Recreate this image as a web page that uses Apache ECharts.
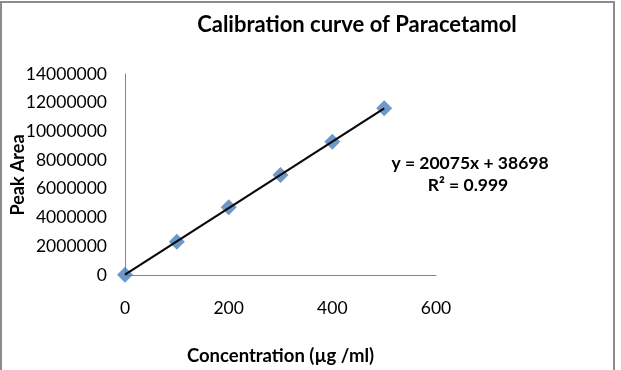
<!DOCTYPE html>
<html>
<head>
<meta charset="utf-8">
<script src="https://cdn.jsdelivr.net/npm/echarts@6/dist/echarts.min.js"></script>
<style>html,body{margin:0;padding:0;background:#fff;}#c{width:621px;height:370px;}</style>
</head>
<body>
<div id="c"></div>
<script>
var concentrations = [0, 100, 200, 300, 400, 500];
var peakAreas = [20000, 2320000, 4720000, 6970000, 9280000, 11610000];
var trendX = [0, 500];
var trendY = [30000, 11610000];
var xTicks = [0, 200, 400, 600];
var yTicks = [0, 2000000, 4000000, 6000000, 8000000, 10000000, 12000000, 14000000];
var titleText = 'Calibration curve of Paracetamol';
var xTitle = 'Concentration (µg /ml)';
var yTitle = 'Peak Area';
var eqText = 'y = 20075x + 38698';
var r2Text = 'R² = 0.999';

var font = 'Lato';
var chart = echarts.init(document.getElementById('c'), null, {renderer: 'canvas'});
chart.setOption({
  animation: false,
  backgroundColor: '#fff',
  title: {
    text: titleText, left: 352, top: 9, textAlign: 'center',
    textStyle: {fontFamily: font, fontWeight: 'bold', fontSize: 22, color: '#000'}
  },
  grid: {left: 125, right: 185, top: 74, bottom: 95, containLabel: false, outerBoundsMode: 'none'},
  xAxis: {
    type: 'value', min: xTicks[0], max: xTicks[xTicks.length - 1], interval: 200,
    name: xTitle, nameLocation: 'middle', nameGap: 72,
    nameTextStyle: {fontFamily: font, fontWeight: 'bold', fontSize: 18.5, color: '#000'},
    axisLine: {lineStyle: {color: '#868686', width: 1}},
    axisTick: {show: false}, splitLine: {show: false},
    axisLabel: {margin: 24, fontFamily: font, fontSize: 17.5, color: '#000',
      formatter: function (v) { return String(v); }}
  },
  yAxis: {
    type: 'value', min: yTicks[0], max: yTicks[yTicks.length - 1], interval: 2000000,
    axisLine: {show: true, lineStyle: {color: '#868686', width: 1}},
    axisTick: {show: false}, splitLine: {show: false},
    axisLabel: {margin: 18, fontFamily: font, fontSize: 17.5, color: '#000',
      formatter: function (v) { return String(v); }}
  },
  series: [
    {
      type: 'scatter', symbol: 'diamond', symbolSize: 16,
      itemStyle: {color: '#4A7EBB'},
      data: concentrations.map(function (x, i) { return [x, peakAreas[i]]; }),
      z: 2
    },
    {
      type: 'line', symbol: 'none', silent: true,
      lineStyle: {color: '#0a0a0a', width: 2.2},
      data: trendX.map(function (x, i) { return [x, trendY[i]]; }),
      z: 3
    }
  ],
  graphic: [
    {type: 'rect', shape: {x: 1, y: 2, width: 613, height: 420},
     style: {fill: 'none', stroke: '#8c8c8c', lineWidth: 2}, silent: true},
    {type: 'text', x: 18, y: 175, rotation: Math.PI / 2,
     style: {text: yTitle, fontFamily: font, fontWeight: 'bold', fontSize: 18, fill: '#000', textAlign: 'center', textVerticalAlign: 'middle'}},
    {type: 'text', x: 470, y: 163, style: {text: eqText, fontFamily: font, fontWeight: 'bold', fontSize: 17.5, fill: '#000', textAlign: 'center', textVerticalAlign: 'middle'}},
    {type: 'text', x: 468, y: 185, style: {text: r2Text, fontFamily: font, fontWeight: 'bold', fontSize: 17.5, fill: '#000', textAlign: 'center', textVerticalAlign: 'middle'}}
  ]
});
</script>
</body>
</html>
